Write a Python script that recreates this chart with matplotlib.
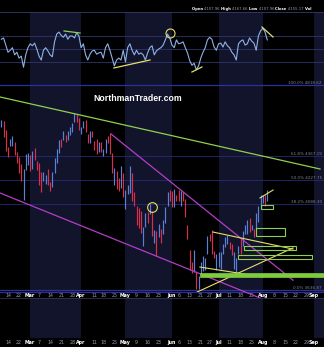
# SPX daily chart with RSI panel, fib levels and trend drawings, dark theme
import numpy as np
import pandas as pd
import matplotlib.pyplot as plt
from matplotlib.patches import Rectangle

# trading days (holidays removed), index 0 = Feb 14 2022
holidays = ['2022-02-21', '2022-04-15', '2022-05-30', '2022-06-20', '2022-07-04', '2022-09-05']
days = pd.bdate_range('2022-02-09', '2022-09-09', freq='C', holidays=holidays)
pos = {d.strftime('%Y-%m-%d'): i - 3 for i, d in enumerate(days)}

# daily OHLC Feb 9 .. Aug 3
opens = [4547, 4553, 4506, 4413, 4429, 4455, 4456, 4385, 4332, 4324, 4156, 4298, 4354,
         4363, 4322, 4401, 4342, 4327, 4203, 4224, 4253, 4279, 4203, 4188, 4289, 4345, 4407,
         4462, 4469, 4494, 4470, 4523, 4541, 4603, 4624, 4599,
         4540, 4547, 4573, 4495, 4474, 4494, 4462, 4437, 4394, 4449, 4385, 4390, 4472, 4490,
         4385, 4256, 4279, 4187, 4222, 4253,
         4131, 4159, 4181, 4270, 4129, 4082, 4035, 3990, 3904, 3964, 4013, 4053, 4052, 3899,
         3928, 3920, 3943, 3930, 3985, 4077, 4151,
         4149, 4096, 4137, 4135, 4096, 4148, 4102, 3975, 3838, 3763, 3765, 3728, 3665, 3715,
         3734, 3774, 3821, 3920, 3913, 3826, 3785,
         3782, 3793, 3831, 3858, 3889, 3880, 3851, 3779, 3763, 3818, 3883, 3860, 3935, 3955,
         4000, 3965, 3954, 3951, 4026, 4087,
         4113, 4105, 4107]
highs = [4590, 4588, 4527, 4426, 4472, 4490, 4456, 4394, 4363, 4325, 4295, 4385, 4389,
         4378, 4401, 4416, 4342, 4327, 4276, 4277, 4258, 4291, 4218, 4272, 4358, 4412, 4465,
         4471, 4522, 4501, 4520, 4546, 4575, 4637, 4627, 4604,
         4549, 4583, 4594, 4503, 4521, 4521, 4464, 4471, 4453, 4453, 4410, 4471, 4489, 4513,
         4386, 4300, 4279, 4240, 4309, 4269,
         4170, 4200, 4308, 4270, 4158, 4082, 4068, 4049, 3965, 4039, 4047, 4090, 4052, 3946,
         3944, 3981, 3955, 3999, 4075, 4158, 4169,
         4166, 4177, 4143, 4169, 4164, 4160, 4120, 3975, 3838, 3779, 3838, 3728, 3707, 3779,
         3810, 3797, 3914, 3928, 3945, 3836, 3818,
         3829, 3832, 3871, 3910, 3918, 3880, 3873, 3829, 3796, 3863, 3903, 3939, 3975, 3999,
         4013, 3975, 3954, 4039, 4079, 4141,
         4144, 4141, 4168]
lows = [4547, 4484, 4401, 4365, 4429, 4429, 4373, 4327, 4267, 4223, 4114, 4287, 4315,
        4279, 4293, 4345, 4284, 4199, 4157, 4224, 4206, 4200, 4162, 4188, 4267, 4330, 4390,
        4423, 4469, 4455, 4465, 4501, 4517, 4581, 4582, 4531,
        4507, 4539, 4514, 4450, 4451, 4487, 4408, 4381, 4392, 4393, 4371, 4390, 4448, 4384,
        4268, 4200, 4175, 4162, 4182, 4132,
        4063, 4147, 4155, 4107, 4078, 3976, 3959, 3929, 3859, 3964, 3984, 4034, 3912, 3877,
        3810, 3909, 3875, 3925, 3985, 4077, 4110,
        4074, 4074, 4107, 4110, 4081, 4107, 4017, 3900, 3734, 3722, 3723, 3640, 3637, 3715,
        3730, 3737, 3821, 3889, 3820, 3800, 3738,
        3752, 3742, 3821, 3858, 3871, 3847, 3812, 3741, 3722, 3818, 3819, 3860, 3926, 3927,
        3938, 3947, 3910, 3951, 3992, 4080,
        4097, 4079, 4107]
closes = [4587, 4504, 4419, 4401, 4472, 4475, 4380, 4349, 4305, 4226, 4288, 4385, 4374,
          4306, 4387, 4364, 4329, 4201, 4171, 4278, 4260, 4204, 4173, 4263, 4358, 4412, 4463,
          4461, 4512, 4456, 4520, 4543, 4575, 4632, 4602, 4530,
          4546, 4583, 4525, 4481, 4500, 4488, 4413, 4397, 4447, 4392, 4391, 4463, 4460, 4394,
          4272, 4296, 4175, 4183, 4288, 4132,
          4155, 4175, 4300, 4147, 4123, 3991, 4001, 3935, 3930, 4024, 4008, 4088, 3924, 3901,
          3901, 3974, 3941, 3979, 4058, 4158, 4132,
          4101, 4177, 4109, 4121, 4161, 4116, 4018, 3901, 3750, 3735, 3790, 3667, 3675, 3765,
          3760, 3796, 3912, 3900, 3821, 3819, 3785,
          3825, 3831, 3845, 3903, 3899, 3855, 3819, 3802, 3790, 3863, 3831, 3937, 3960, 3999,
          3962, 3967, 3921, 4024, 4072, 4130,
          4119, 4091, 4155]

# RSI, same days
rsi = [65, 67, 56, 45, 48, 52, 41, 45, 36, 39, 22, 41, 52, 58, 55, 59, 50, 39, 33, 48,
       52, 47, 41, 38, 61, 73, 76, 71, 68, 73, 65, 70, 70, 67, 75, 70, 52, 58, 41, 33,
       42, 47, 48, 42, 44, 45, 36, 52, 58, 48, 36, 24, 33, 36, 33, 48, 30, 52, 58, 48,
       41, 48, 42, 44, 41, 33, 44, 52, 55, 41, 47, 50, 52, 56, 64, 73, 67, 56, 52, 64,
       58, 59, 61, 52, 44, 32, 25, 28, 18, 24, 36, 45, 52, 64, 68, 65, 53, 48, 58, 59,
       53, 61, 55, 52, 45, 41, 33, 58, 62, 64, 56, 58, 67, 62, 59, 48, 70, 78, 82, 76, 64]

# x axis labels
tick_dates = ['2022-02-14', '2022-02-22', '2022-03-01', '2022-03-07', '2022-03-14', '2022-03-21',
              '2022-03-28', '2022-04-01', '2022-04-11', '2022-04-18', '2022-04-25', '2022-05-02',
              '2022-05-09', '2022-05-16', '2022-05-23', '2022-06-01', '2022-06-06', '2022-06-13',
              '2022-06-21', '2022-06-27', '2022-07-01', '2022-07-11', '2022-07-18', '2022-07-25',
              '2022-08-01', '2022-08-08', '2022-08-15', '2022-08-22', '2022-08-29', '2022-09-01']
tick_labels = ['14', '22', 'Mar', '7', '14', '21', '28', 'Apr', '11', '18', '25', 'May', '9', '16',
               '23', 'Jun', '6', '13', '21', '27', 'Jul', '11', '18', '25', 'Aug', '8', '15', '22',
               '29', 'Sep']
month_starts = ['2022-03-01', '2022-04-01', '2022-05-02', '2022-06-01', '2022-07-01',
                '2022-08-01', '2022-09-01']

# fibonacci retracement Jan high -> Jun low
fib_pct = ['0.0%', '38.2%', '50.0%', '61.8%', '100.0%']
fib_price = [3636.87, 4088.30, 4227.75, 4367.19, 4818.62]

# drawings: (x0, p0, x1, p1)
green_line = (-3.6, 4739.5, 140.8, 4292.5)
purple_lines = [(-3.6, 4153.1, 122.7, 3555.2), (46.5, 4504, 128.6, 3684)]
yellow_lines = [(92.5, 3936, 128.6, 3845), (85.3, 3624, 128.6, 3851),
                (86.6, 3751, 115.1, 3700), (113.7, 4125, 119.6, 4170)]
boxes = [(114.2, 119.6, 4063, 4085), (111.9, 125.0, 3915, 3958),
         (106.5, 130.0, 3840, 3861), (103.8, 137.2, 3793, 3814)]
support_bar = (86.6, 143.0, 3700, 3720)
circle_main = (65.0, 4074)
rsi_lines = [((25.3, 77.7, 32.5, 74.6), '#8fd14f'), ((47.8, 20.8, 64.1, 33.1), '#e6df6a'),
             ((83.0, 14.6, 87.5, 22.3), '#e6df6a'), ((114.6, 83.8, 119.6, 68.5), '#e6df6a')]
circle_rsi = (73.1, 74.6)

# last bar header
header = [('Open', '4107.96'), ('High', '4167.66'), ('Low', '4107.96'), ('Close', '4155.17'),
          ('Vol', '')]

NAVY = '#12142b'
RED = '#d8304c'
BLUE = '#5b80d8'
YEL = '#e6df6a'
LIME = '#8fd14f'
PURP = '#b23ec8'
GREY = '#9a9aab'

W, H = 324, 347
fig = plt.figure(figsize=(W / 100, H / 100), dpi=100, facecolor='black')


def rect(top, bot):
    return [0, (H - bot) / H, 1, (bot - top) / H]


ax_rsi = fig.add_axes(rect(12, 84))
ax = fig.add_axes(rect(84, 292))
ax_low = fig.add_axes(rect(298, 338))

x = np.arange(-3, -3 + len(closes))
xmin, xmax = -3.61, 142.6
ticks = [pos[d] for d in tick_dates]
mstart = [pos[d] for d in month_starts]

for a in (ax_rsi, ax, ax_low):
    a.set_facecolor('black')
    a.set_xlim(xmin, xmax)
    # month shading: Mar, May, Jul, Sep
    for i in range(0, len(mstart), 2):
        end = mstart[i + 1] if i + 1 < len(mstart) else xmax + 5
        a.axvspan(mstart[i], end, color=NAVY, lw=0, zorder=0)
    for s in a.spines.values():
        s.set_visible(False)
    a.set_yticks([])
    a.set_xticks(ticks)
    a.tick_params(axis='x', length=0, labelsize=3.4, colors=GREY)

# RSI panel
ax_rsi.set_ylim(-3.85, 106.9)
ax_rsi.spines['top'].set_visible(True)
ax_rsi.spines['top'].set_color('#333a6e')
ax_rsi.spines['top'].set_linewidth(0.6)
for lvl in (70, 50, 30):
    ax_rsi.axhline(lvl, color='#2f356a', lw=0.6, zorder=1)
ax_rsi.plot(x, rsi, color='#8db2e6', lw=0.8, zorder=3)
for (x0, y0, x1, y1), c in rsi_lines:
    ax_rsi.plot([x0, x1], [y0, y1], color=c, lw=0.9, zorder=4)
ax_rsi.plot(*circle_rsi, 'o', ms=6.5, mfc='none', mec=YEL, mew=0.8, zorder=4)
ax_rsi.set_xticklabels([])

# price panel (log scale)
ax.set_yscale('log')
ax.set_ylim(3624.4, 4824.9)
ax.yaxis.set_minor_locator(plt.NullLocator())
ax.yaxis.set_major_locator(plt.NullLocator())
ax.spines['bottom'].set_visible(True)
ax.spines['bottom'].set_color('#2c2f9a')
ax.spines['bottom'].set_linewidth(0.8)

for pct, p in zip(fib_pct, fib_price):
    strong = pct in ('0.0%', '100.0%')
    ax.axhline(p, color='#2c30a0' if strong else '#262b78', lw=0.9 if strong else 0.6,
               zorder=1, clip_on=False)
    ax.text(xmax - 1, p, f'{pct} {p:.2f}', color='#7f8096', fontsize=3.0,
            ha='right', va='bottom', zorder=2)

colors = [BLUE if c >= o else RED for o, c in zip(opens, closes)]
ax.vlines(x, lows, highs, colors=colors, lw=0.85, zorder=3)

x0, p0, x1, p1 = green_line
ax.plot([x0, x1], [p0, p1], color=LIME, lw=0.9, zorder=4)
for x0, p0, x1, p1 in purple_lines:
    ax.plot([x0, x1], [p0, p1], color=PURP, lw=0.9, zorder=4, clip_on=False)
for x0, p0, x1, p1 in yellow_lines:
    ax.plot([x0, x1], [p0, p1], color=YEL, lw=0.8, zorder=5)
for bx0, bx1, lo, hi in boxes:
    ax.add_patch(Rectangle((bx0, lo), bx1 - bx0, hi - lo, fill=False, ec=LIME, lw=0.8, zorder=5))
bx0, bx1, lo, hi = support_bar
ax.add_patch(Rectangle((bx0, lo), bx1 - bx0, hi - lo, fc='#7fcb3e', ec='#7fcb3e', lw=0.5, zorder=5))
ax.plot(*circle_main, 'o', ms=7, mfc='none', mec=YEL, mew=0.8, zorder=5)

ax.text(0.425, 0.928, 'NorthmanTrader.com', transform=ax.transAxes, color='white',
        fontsize=6.3, fontweight='bold', family='Liberation Sans', ha='center', va='center', zorder=6)

ax.tick_params(axis='x', pad=0.6)
ax.set_xticklabels(tick_labels)

# lower empty panel
ax_low.set_ylim(0, 1)
ax_low.spines['top'].set_visible(True)
ax_low.spines['top'].set_color('#3a3d55')
ax_low.spines['top'].set_linewidth(0.5)
ax_low.tick_params(axis='x', pad=1.2)
ax_low.set_xticklabels(tick_labels)

for a in (ax, ax_low):
    for lab in a.get_xticklabels():
        if lab.get_text().isalpha():
            lab.set_color('white')
            lab.set_fontweight('bold')

# header text, pieces chained left to right
items = []
for name, val in header:
    items.append((name + ' ', 'white', 'bold'))
    if val:
        items.append((val + ' ', GREY, 'normal'))
anchor = fig.text(192 / W, 1 - 9 / H, items[0][0], color=items[0][1], fontweight=items[0][2],
                  fontsize=2.7, va='center')
for txt, c, wt in items[1:]:
    anchor = plt.annotate(txt, xy=(1, 0.5), xycoords=anchor, va='center', ha='left',
                          color=c, fontweight=wt, fontsize=2.7, annotation_clip=False)

fig.savefig('out.png', dpi=100, facecolor='black')
